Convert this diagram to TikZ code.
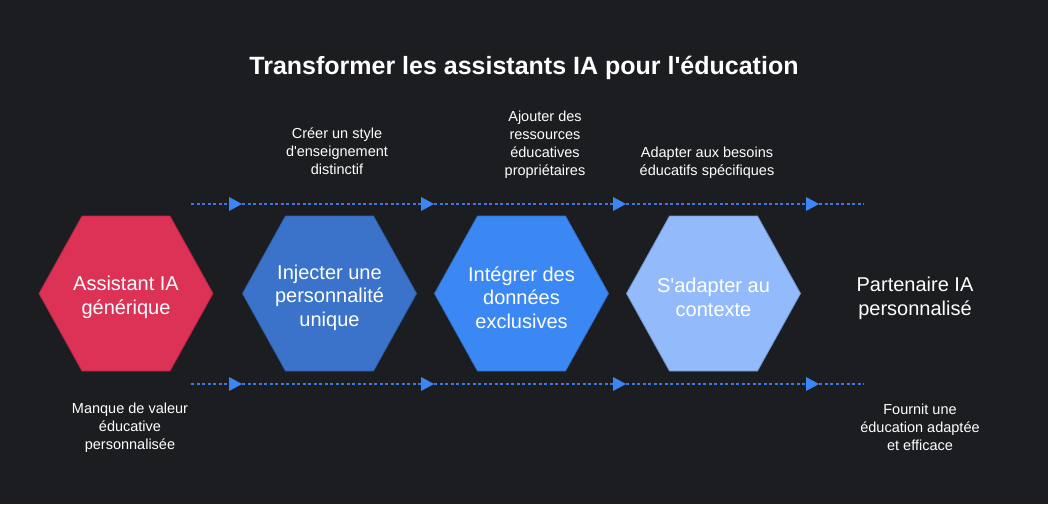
\documentclass[tikz,border=0pt]{standalone}
\usepackage{fontspec}
\setmainfont{Liberation Sans}
\usetikzlibrary{arrows.meta,calc}
\definecolor{bg}{HTML}{1C1D21}
\definecolor{hexa}{HTML}{DC3256}
\definecolor{hexaB}{HTML}{B02645}
\definecolor{hexb}{HTML}{3A73C9}
\definecolor{hexbB}{HTML}{2F5FA8}
\definecolor{hexc}{HTML}{3B88F5}
\definecolor{hexcB}{HTML}{2F6FCC}
\definecolor{hexd}{HTML}{93BBFC}
\definecolor{hexdB}{HTML}{6F93CC}
\definecolor{flow}{HTML}{3B78E0}
\definecolor{tip}{HTML}{3B86F7}
\tikzset{
  hextext/.style={text=white, align=center, font=\fontsize{20}{23.5}\selectfont},
  smalltext/.style={text=white, align=center, font=\fontsize{14.5}{18}\selectfont},
  titletext/.style={text=white, font=\fontsize{25}{28}\selectfont\bfseries},
  flowline/.style={draw=flow, line width=1.3pt, dash pattern=on 3pt off 2.5pt},
  flowarrow/.style={flowline, -{Triangle[length=13pt,width=14pt,color=tip,fill=tip,line width=0pt]}},
  hexline/.style={line width=0.8pt},
}
\newcommand\hexshape[3]{%
  \draw[hexline, fill=#2, draw=#3]
    ($(#1)+(-87,0)$) -- ($(#1)+(-44,-77.5)$) -- ($(#1)+(44,-77.5)$) --
    ($(#1)+(87,0)$) -- ($(#1)+(44,77.5)$) -- ($(#1)+(-44,77.5)$) -- cycle;}
\newcommand\ap{\textquotesingle}
\begin{document}
\begin{tikzpicture}[x=1pt,y=-1pt]
\fill[bg] (0,0) rectangle (1048,504);
\useasboundingbox (0,0) rectangle (1048,504);

\node[titletext] (title) at (524,68) {Transformer les assistants IA pour l\ap éducation};

% hexagon centres
\coordinate (c1) at (126,293.5);
\coordinate (c2) at (329.5,293.5);
\coordinate (c3) at (521.5,293.5);
\coordinate (c4) at (713.5,293.5);

\hexshape{c1}{hexa}{hexaB}
\hexshape{c2}{hexb}{hexbB}
\hexshape{c3}{hexc}{hexcB}
\hexshape{c4}{hexd}{hexdB}

\node[hextext] (h1) at (126,297.5) {Assistant IA\\générique};
\node[hextext] (h2) at (329.5,297.5) {Injecter une\\personnalité\\unique};
\node[hextext] (h3) at (521.5,297.5) {Intégrer des\\données\\exclusives};
\node[hextext] (h4) at (713.5,297.5) {S\ap adapter au\\contexte};
\node[hextext] (h5) at (915,298.5) {Partenaire IA\\personnalisé};

% top labels
\node[smalltext] (l2) at (337,151) {Créer un style\\d\ap enseignement\\distinctif};
\node[smalltext] (l3) at (545,145) {Ajouter des\\ressources\\éducatives\\propriétaires};
\node[smalltext] (l4) at (707,162.5) {Adapter aux besoins\\éducatifs spécifiques};
% bottom labels
\node[smalltext] (b1) at (130,427.5) {Manque de valeur\\éducative\\personnalisée};
\node[smalltext] (b5) at (920,427) {Fournit une\\éducation adaptée\\et efficace};

% flow lines
\coordinate (t0) at (191,204);
\coordinate (t1) at (242,204);
\coordinate (t2) at (434,204);
\coordinate (t3) at (626,204);
\coordinate (t4) at (819,204);
\coordinate (t5) at (864,204);
\coordinate (u0) at (191,384);
\coordinate (u1) at (242,384);
\coordinate (u2) at (434,384);
\coordinate (u3) at (626,384);
\coordinate (u4) at (819,384);
\coordinate (u5) at (864,384);

\draw[flowarrow] (t0) -- (t1);
\draw[flowarrow] (t1) -- (t2);
\draw[flowarrow] (t2) -- (t3);
\draw[flowarrow] (t3) -- (t4);
\draw[flowline] (t4) -- (t5);
\draw[flowarrow] (u0) -- (u1);
\draw[flowarrow] (u1) -- (u2);
\draw[flowarrow] (u2) -- (u3);
\draw[flowarrow] (u3) -- (u4);
\draw[flowline] (u4) -- (u5);
\end{tikzpicture}
\end{document}
